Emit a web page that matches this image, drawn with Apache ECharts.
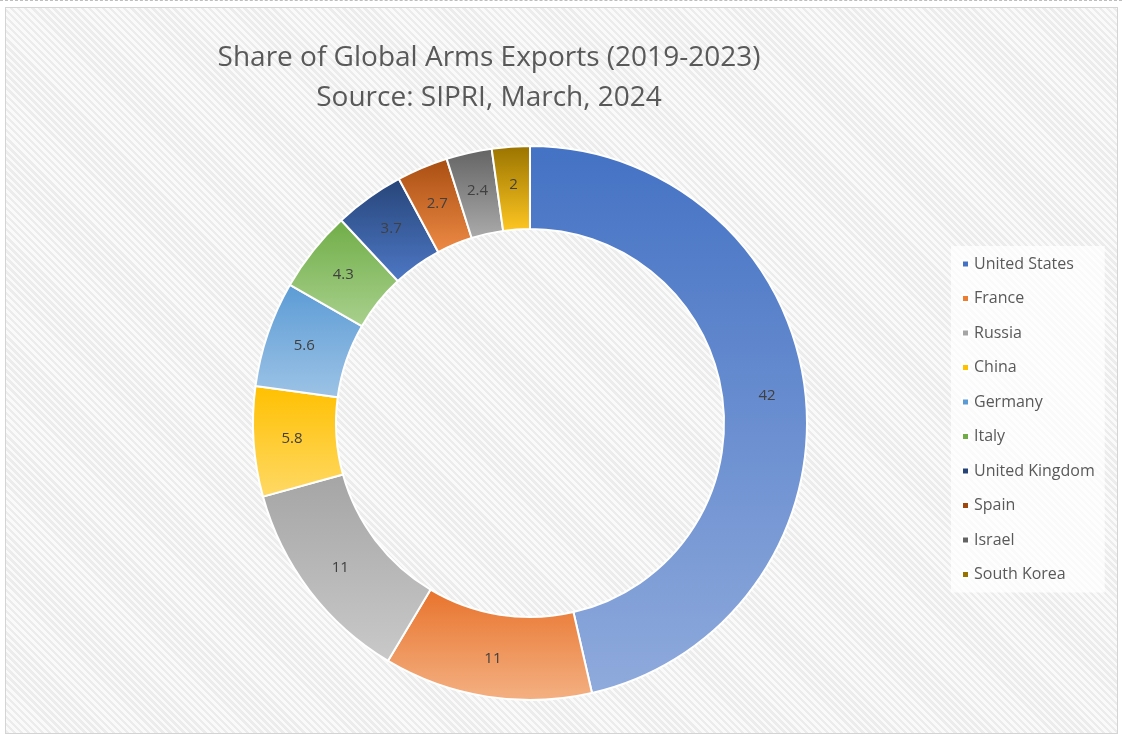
<!DOCTYPE html>
<html>
<head>
<meta charset="utf-8">
<script src="https://cdn.jsdelivr.net/npm/echarts@6/dist/echarts.min.js"></script>
<style>
html,body{margin:0;padding:0;background:#fff;}
#frame{position:absolute;left:0;top:0;width:1122px;height:737px;border-top:1px dashed #bdbdbd;box-sizing:border-box;}
#chart{position:absolute;left:5px;top:7px;width:1113px;height:727px;box-sizing:border-box;border:1px solid #d4d4d4;
background:repeating-linear-gradient(45deg,#ececec 0px,#ececec 2.5px,#fafafa 2.5px,#fafafa 5px);}
</style>
</head>
<body>
<div id="frame"></div>
<div id="chart"></div>
<script>
const categories = ['United States','France','Russia','China','Germany','Italy','United Kingdom','Spain','Israel','South Korea'];
const values = [42, 11, 11, 5.8, 5.6, 4.3, 3.7, 2.7, 2.4, 2];
const topColors = ['#4472C4','#E8732C','#A5A5A5','#FFC000','#5B9BD5','#70AD47','#264478','#A84E12','#636363','#997300'];
const bottomColors = ['#8FAADC','#F4B183','#C9C9C9','#FFD966','#9DC3E6','#A9D18E','#4E78C6','#EE8A45','#ABABAB','#FFC722'];
const legendColors = ['#4472C4','#ED7D31','#A5A5A5','#FFC000','#5B9BD5','#70AD47','#264478','#9E480E','#636363','#997300'];
const titleLines = ['Share of Global Arms Exports (2019-2023)', 'Source: SIPRI, March, 2024'];

const chart = echarts.init(document.getElementById('chart'), null, {renderer:'canvas'});
const data = categories.map((c,i)=>({
  name:c, value:values[i],
  itemStyle:{color:new echarts.graphic.LinearGradient(0,0,0,1,[{offset:0,color:topColors[i]},{offset:1,color:bottomColors[i]}])}
}));
chart.setOption({
  backgroundColor:'transparent',
  title:{
    text: titleLines.join('\n'),
    left: 483-5, top: 32-7, textAlign:'center',
    textStyle:{fontFamily:'Open Sans', fontSize:28, fontWeight:'normal', color:'#595959', lineHeight:40}
  },
  legend:{
    orient:'vertical', left:950-5, top:245-7,
    data: categories.map((c,i)=>({name:c, itemStyle:{color:legendColors[i]}})),
    icon:'rect', itemWidth:7, itemHeight:7, itemGap:18.5,
    padding:[10,10,10,10],
    backgroundColor:'rgba(255,255,255,0.75)',
    textStyle:{fontFamily:'Open Sans', fontSize:16, color:'#595959', lineHeight:16, padding:[0,0,0,0]}
  },
  series:[{
    type:'pie',
    center:[529-5, 422-7],
    radius:[194, 277],
    startAngle:90,
    clockwise:true,
    avoidLabelOverlap:false,
    label:{show:true, position:'inside', formatter:'{c}', fontFamily:'Open Sans', fontSize:15, color:'#404040'},
    labelLine:{show:false},
    itemStyle:{borderColor:'#ffffff', borderWidth:2},
    emphasis:{disabled:true},
    data:data
  }]
});
</script>
</body>
</html>
